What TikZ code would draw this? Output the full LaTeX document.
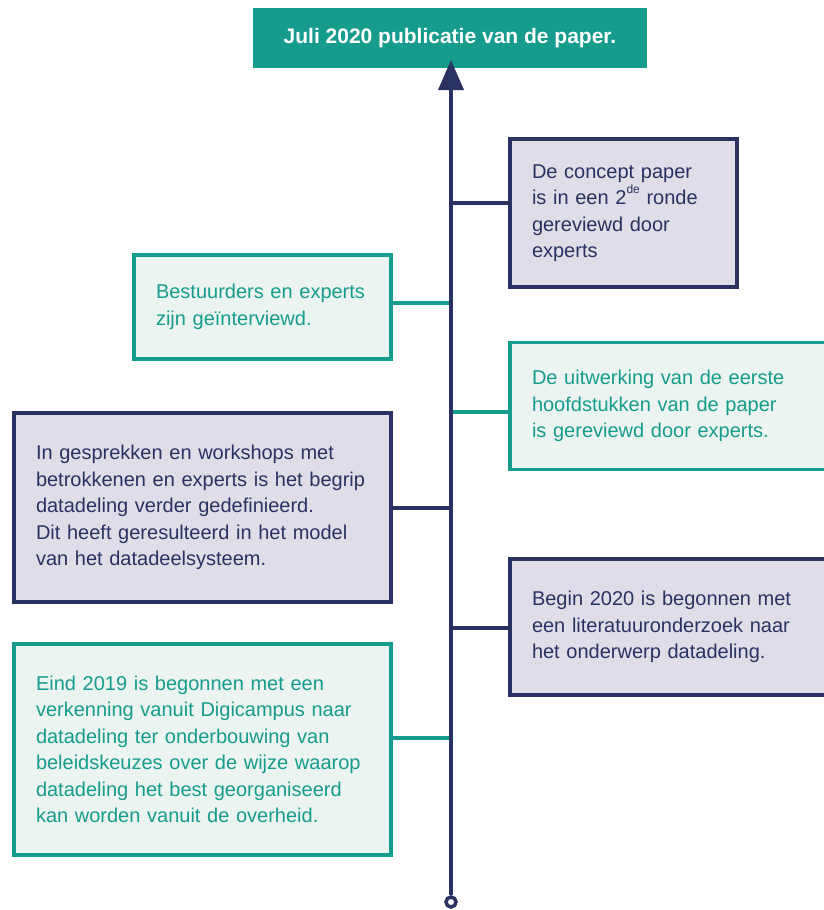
\documentclass[tikz,border=0pt]{standalone}
\usepackage{fontspec}
\setmainfont{Liberation Sans}
\usetikzlibrary{arrows.meta}
\definecolor{teal}{HTML}{159C8C}
\definecolor{navy}{HTML}{2A3262}
\definecolor{lav}{HTML}{DFDDE7}
\definecolor{mint}{HTML}{EBF4F1}
\tikzset{
  box/.style={rectangle, line width=3.5pt, inner xsep=22pt, inner ysep=0pt, align=left,
    font=\fontsize{20}{26.5}\selectfont, anchor=center},
  navybox/.style={box, draw=navy, fill=lav, text=navy},
  tealbox/.style={box, draw=teal, fill=mint, text=teal},
  navyline/.style={draw=navy, line width=4pt},
  tealline/.style={draw=teal, line width=4pt},
}
\begin{document}
\begin{tikzpicture}[x=1pt,y=-1pt]
\useasboundingbox (0,0) rectangle (823,910);
\fill[white] (0,0) rectangle (823,910);

% title
\node[fill=teal, text=white, font=\fontsize{21}{25}\bfseries, minimum width=394pt, minimum height=60pt, inner sep=0pt] (title) at (450,38) {Juli 2020 publicatie van de paper.};

% boxes
\node[navybox, text width=183pt, minimum height=148pt] (c1) at (623.5,213) {De concept paper\\is in een 2\raisebox{0.55em}{\fontsize{12}{12}\selectfont de} ronde\\gereviewd door\\experts};
\node[tealbox, text width=213pt, minimum height=104pt] (c2) at (262.5,307) {Bestuurders en experts\\zijn geïnterviewd.};
\node[tealbox, text width=286pt, minimum height=127pt] (c3) at (675,406) {De uitwerking van de eerste\\hoofdstukken van de paper\\is gereviewd door experts.};
\node[navybox, text width=333pt, minimum height=189pt] (c4) at (202.5,507.5) {In gesprekken en workshops met\\betrokkenen en experts is het begrip\\datadeling verder gedefinieerd.\\Dit heeft geresulteerd in het model\\van het datadeelsysteem.};
\node[navybox, text width=286pt, minimum height=136pt] (c5) at (675,627) {Begin 2020 is begonnen met\\een literatuuronderzoek naar\\het onderwerp datadeling.};
\node[tealbox, text width=333pt, minimum height=211pt] (c6) at (202.5,749.5) {Eind 2019 is begonnen met een\\verkenning vanuit Digicampus naar\\datadeling ter onderbouwing van\\beleidskeuzes over de wijze waarop\\datadeling het best georganiseerd\\kan worden vanuit de overheid.};

% spine coordinates
\coordinate (s1) at (451,203);
\coordinate (s2) at (451,303);
\coordinate (s3) at (451,412);
\coordinate (s4) at (451,508);
\coordinate (s5) at (451,628);
\coordinate (s6) at (451,738);
\coordinate (top) at (451,60);

% connectors
\draw[navyline] (s1) -- (s1 -| c1.west);
\draw[tealline] (s2) -- (s2 -| c2.east);
\draw[tealline] (s3) -- (s3 -| c3.west);
\draw[navyline] (s4) -- (s4 -| c4.east);
\draw[navyline] (s5) -- (s5 -| c5.west);
\draw[tealline] (s6) -- (s6 -| c6.east);

% spine
\node[circle, draw=navy, fill=white, line width=3.5pt, minimum size=10pt, inner sep=0pt] (dot) at (451,902) {};
\draw[navyline, -{Triangle[length=30pt,width=25pt]}] (dot.north) -- (top);
\end{tikzpicture}
\end{document}
